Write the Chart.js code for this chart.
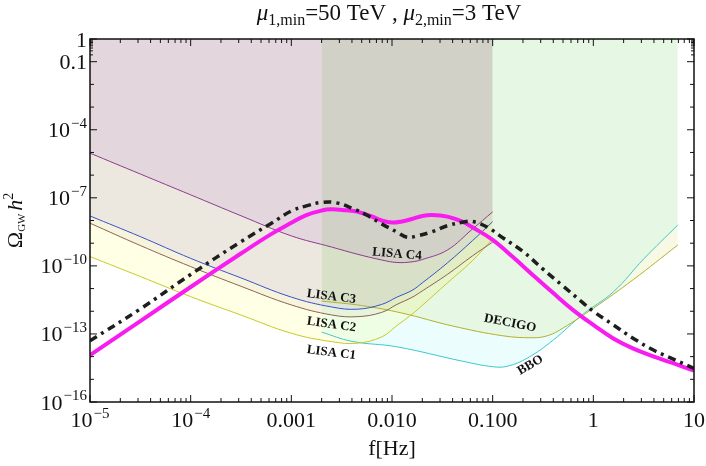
<!DOCTYPE html>
<html>
<head>
<meta charset="utf-8">
<script src="https://cdn.jsdelivr.net/npm/chart.js@4.4.1/dist/chart.umd.min.js"></script>
<style>
  html, body { margin: 0; padding: 0; background: #fff; }
  canvas { display: block; }
</style>
</head>
<body>
<canvas id="gw" width="706" height="466"></canvas>
<script>
// frequencies [Hz] and Omega_GW h^2
var lisaFreq = [1e-5, 3.16e-5, 1e-4, 3.16e-4, 1e-3, 2.5e-3, 4.5e-3, 7.9e-3, 0.0112, 0.0158, 0.02, 0.0355, 0.063, 0.1];
var lisaC1 = [2.57e-10, 3.4e-11, 4.4e-12, 6.8e-13, 1.07e-13, 4.6e-14, 3.9e-14, 7.4e-14, 2.34e-13, 7.4e-13, 1.82e-12, 1.78e-11, 1.7e-10, 1.58e-9];
var lisaC2 = [7.6e-9, 7.9e-10, 9.3e-11, 1.26e-11, 1.9e-12, 6.9e-13, 5.75e-13, 8.9e-13, 2.0e-12, 4.1e-12, 7.9e-12, 4.2e-11, 2.75e-10, 1.12e-9];
var lisaC3 = [1.58e-8, 1.95e-9, 2.14e-10, 2.95e-11, 4.2e-12, 1.55e-12, 1.23e-12, 2.0e-12, 4.2e-12, 8.3e-12, 1.78e-11, 1.35e-10, 1.29e-9, 8.9e-9];
var lisaC4 = [9.3e-6, 1.12e-6, 1.35e-7, 1.62e-8, 2.1e-9, 6.8e-10, 3.3e-10, 1.82e-10, 1.41e-10, 1.51e-10, 1.9e-10, 5.0e-10, 4.2e-9, 2.4e-8];

var decigoFreq = [2e-3, 5e-3, 0.0126, 0.04, 0.126, 0.25, 0.355, 0.5, 1, 2.5, 6.9];
var decigo = [2.8e-12, 1.78e-12, 8.3e-13, 2.24e-13, 8.3e-14, 6.8e-14, 8.5e-14, 1.82e-13, 1.35e-12, 2.5e-11, 8.3e-10];

var bboFreq = [2e-3, 4e-3, 0.0112, 0.05, 0.1, 0.141, 0.224, 0.4, 0.79, 1.58, 3.16, 6.9];
var bbo = [1.2e-13, 4.7e-14, 2.7e-14, 6.3e-15, 3.6e-15, 3.8e-15, 8.9e-15, 5.4e-14, 7.4e-13, 7.1e-12, 2.0e-10, 6.3e-9];

var signalFreq = [1e-5, 3.16e-5, 1e-4, 3.16e-4, 6.3e-4, 1e-3, 1.41e-3, 2e-3, 2.5e-3, 3.5e-3, 4.5e-3, 6.3e-3, 7.9e-3, 0.01, 0.0126, 0.0158, 0.02, 0.025, 0.0355, 0.05, 0.063, 0.1, 0.158, 0.25, 0.4, 0.63, 1, 1.58, 2.5, 4, 6.3, 10];
var signal = [1.17e-14, 3.7e-13, 1.17e-11, 3.5e-10, 2.5e-9, 7.9e-9, 1.74e-8, 2.75e-8, 3.1e-8, 2.8e-8, 2.45e-8, 1.5e-8, 1.0e-8, 8.1e-9, 9.1e-9, 1.17e-8, 1.58e-8, 1.74e-8, 1.48e-8, 8.9e-9, 5.0e-9, 1.41e-9, 2.5e-10, 4.0e-11, 6.3e-12, 1.12e-12, 2.5e-13, 6.3e-14, 2.24e-14, 1.0e-14, 5.0e-15, 2.4e-15];

var dashedFreq = [1e-5, 3.16e-5, 1e-4, 3.16e-4, 6.3e-4, 1e-3, 1.41e-3, 2e-3, 2.8e-3, 4e-3, 5.6e-3, 7.9e-3, 0.0112, 0.0141, 0.0178, 0.025, 0.0355, 0.05, 0.063, 0.089, 0.126, 0.2, 0.316, 0.5, 0.79, 1, 1.58, 2.5, 4, 6.3, 10];
var dashed = [5.0e-14, 1.26e-12, 4.2e-11, 1.17e-9, 7.4e-9, 2.63e-8, 4.4e-8, 6.3e-8, 6.0e-8, 3.5e-8, 1.74e-8, 7.1e-9, 3.1e-9, 1.82e-9, 2.1e-9, 3.2e-9, 5.9e-9, 8.3e-9, 9.1e-9, 5.0e-9, 1.74e-9, 4.3e-10, 7.2e-11, 1.29e-11, 2.34e-12, 1.0e-12, 2.5e-13, 6.3e-14, 1.9e-14, 7.6e-15, 3.0e-15];

// tick labels
var xTickValues = [1e-5, 1e-4, 1e-3, 1e-2, 0.1, 1, 10];
var xTickLabels = ["10^\u22125", "10^\u22124", "0.001", "0.010", "0.100", "1", "10"];
var yTickValues = [1, 0.1, 1e-4, 1e-7, 1e-10, 1e-13, 1e-16];
var yTickLabels = ["1", "0.1", "10^\u22124", "10^\u22127", "10^\u221210", "10^\u221213", "10^\u221216"];

// curve labels placed in data coordinates
var curveLabels = ["LISA C4", "LISA C3", "LISA C2", "LISA C1", "DECIGO", "BBO"];
var curveLabelFreq = [0.0112, 2.5e-3, 2.5e-3, 2.5e-3, 0.149, 0.237];
var curveLabelOmega = [3.3e-10, 4.4e-12, 2.57e-13, 1.48e-14, 2.95e-13, 4.2e-15];
var curveLabelAngle = [4.5, 7, 8, 7, 11, -31];

function pts(fs, vs) {
  return fs.map(function (f, i) { return { x: f, y: vs[i] }; });
}

var serif = '"Liberation Serif", "Times New Roman", serif';

function drawPow(ctx, text, x, y, align, size) {
  var parts = text.split("^");
  var es = Math.round(size * 0.68);
  ctx.font = size + "px " + serif;
  var wb = ctx.measureText(parts[0]).width;
  var we = 0;
  if (parts[1]) {
    ctx.font = es + "px " + serif;
    we = ctx.measureText(parts[1]).width + 1;
  }
  var w = wb + we;
  var x0 = align === "center" ? x - w / 2 : (align === "right" ? x - w : x);
  ctx.textAlign = "left";
  ctx.font = size + "px " + serif;
  ctx.fillText(parts[0], x0, y);
  if (parts[1]) {
    ctx.font = es + "px " + serif;
    ctx.fillText(parts[1], x0 + wb + 1, y - size * 0.42);
  }
}

// draws a row of [text, font, dy] pieces centred at x
function drawRuns(ctx, runs, x, y) {
  var total = 0;
  runs.forEach(function (r) { ctx.font = r[1]; total += ctx.measureText(r[0]).width; });
  var cx = x - total / 2;
  ctx.textAlign = "left";
  runs.forEach(function (r) {
    ctx.font = r[1];
    ctx.fillText(r[0], cx, y + r[2]);
    cx += ctx.measureText(r[0]).width;
  });
}

var frame = {
  id: "frame",
  afterDraw: function (chart) {
    var ctx = chart.ctx;
    var a = chart.chartArea;
    var xs = chart.scales.x, ys = chart.scales.y;
    ctx.save();
    ctx.strokeStyle = "#111";
    ctx.fillStyle = "#111";
    ctx.lineWidth = 1.5;
    ctx.strokeRect(a.left, a.top, a.right - a.left, a.bottom - a.top);

    ctx.lineWidth = 1;
    ctx.beginPath();
    // x ticks, bottom and top
    for (var d = -5; d <= 1; d++) {
      for (var m = 1; m <= 9; m++) {
        var v = m * Math.pow(10, d);
        if (v > 10.0001) break;
        var px = xs.getPixelForValue(v);
        var len = m === 1 ? 7 : 4;
        ctx.moveTo(px, a.bottom); ctx.lineTo(px, a.bottom - len);
        ctx.moveTo(px, a.top); ctx.lineTo(px, a.top + len);
      }
    }
    // y ticks, left and right
    for (var e = -16; e <= 0; e++) {
      var py = ys.getPixelForValue(Math.pow(10, e));
      var big = yTickValues.some(function (t) { return Math.abs(Math.log10(t) - e) < 1e-6; });
      var l = big ? 7 : 4;
      ctx.moveTo(a.left, py); ctx.lineTo(a.left + l, py);
      ctx.moveTo(a.right, py); ctx.lineTo(a.right - l, py);
    }
    for (var k = 2; k <= 9; k++) {
      var pm = ys.getPixelForValue(k * 0.1);
      ctx.moveTo(a.left, pm); ctx.lineTo(a.left + 3, pm);
      ctx.moveTo(a.right, pm); ctx.lineTo(a.right - 3, pm);
    }
    ctx.stroke();

    ctx.textBaseline = "alphabetic";
    xTickValues.forEach(function (v, i) {
      drawPow(ctx, xTickLabels[i], xs.getPixelForValue(v), a.bottom + 25, "center", 22);
    });
    yTickValues.forEach(function (v, i) {
      drawPow(ctx, yTickLabels[i], a.left - 3, ys.getPixelForValue(v) + 7.5, "right", 22);
    });

    // axis titles
    drawRuns(ctx, [["f[Hz]", "22px " + serif, 0]], (a.left + a.right) / 2, 455);
    ctx.save();
    ctx.translate(22, (a.top + a.bottom) / 2);
    ctx.rotate(-Math.PI / 2);
    drawRuns(ctx, [
      ["\u03A9", "22px " + serif, 0],
      ["GW", "11px " + serif, 3],
      [" ", "11px " + serif, 0],
      ["h", "italic 22px " + serif, 0],
      ["2", "14px " + serif, -9]
    ], 0, 0);
    ctx.restore();

    // title
    drawRuns(ctx, [
      ["\u03BC", "italic 23px " + serif, 0],
      ["1,min", "16px " + serif, 5],
      ["=50 TeV , ", "23px " + serif, 0],
      ["\u03BC", "italic 23px " + serif, 0],
      ["2,min", "16px " + serif, 5],
      ["=3 TeV", "23px " + serif, 0]
    ], (a.left + a.right) / 2 - 3, 20);

    // curve labels
    ctx.font = "bold 13px " + serif;
    ctx.textAlign = "center";
    ctx.textBaseline = "middle";
    curveLabels.forEach(function (t, i) {
      ctx.save();
      ctx.translate(xs.getPixelForValue(curveLabelFreq[i]), ys.getPixelForValue(curveLabelOmega[i]));
      ctx.rotate(curveLabelAngle[i] * Math.PI / 180);
      ctx.fillText(t, 0, 0);
      ctx.restore();
    });
    ctx.restore();
  }
};

function sens(label, fs, vs, line, fill) {
  return {
    label: label,
    data: pts(fs, vs),
    borderColor: line,
    backgroundColor: fill,
    borderWidth: 1,
    fill: "end",
    pointRadius: 0,
    tension: 0.4
  };
}

new Chart(document.getElementById("gw"), {
  type: "line",
  data: {
    datasets: [
      {
        label: "dashed",
        data: pts(dashedFreq, dashed),
        borderColor: "#1e1e1e",
        borderWidth: 3.5,
        borderDash: [8, 5, 3, 5],
        fill: false,
        pointRadius: 0,
        tension: 0.4
      },
      {
        label: "signal",
        data: pts(signalFreq, signal),
        borderColor: "#f81cf0",
        borderWidth: 4,
        fill: false,
        pointRadius: 0,
        tension: 0.4
      },
      sens("LISA C4", lisaFreq, lisaC4, "#8c3c8c", "rgba(150,70,200,0.10)"),
      sens("LISA C3", lisaFreq, lisaC3, "#3c50c8", "rgba(80,70,255,0.07)"),
      sens("LISA C2", lisaFreq, lisaC2, "#8c6450", "rgba(150,110,120,0.08)"),
      sens("LISA C1", lisaFreq, lisaC1, "#c8c828", "rgba(255,255,0,0.10)"),
      sens("DECIGO", decigoFreq, decigo, "#b4b028", "rgba(190,205,40,0.12)"),
      sens("BBO", bboFreq, bbo, "#3cc8c8", "rgba(0,225,225,0.08)")
    ]
  },
  options: {
    responsive: false,
    animation: false,
    layout: { padding: { left: 90, right: 12, top: 39, bottom: 64 } },
    scales: {
      x: { type: "logarithmic", min: 1e-5, max: 10, display: false },
      y: { type: "logarithmic", min: 1e-16, max: 1, display: false }
    },
    plugins: {
      legend: { display: false },
      tooltip: { enabled: false },
      filler: { drawTime: "beforeDatasetsDraw" }
    }
  },
  plugins: [frame]
});
</script>
</body>
</html>
